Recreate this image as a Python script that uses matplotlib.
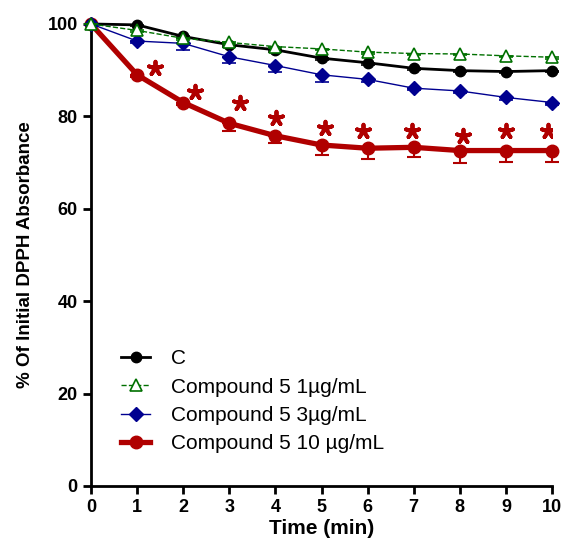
import matplotlib.pyplot as plt
import numpy as np

plt.rcParams["font.family"] = ["Liberation Sans", "DejaVu Sans"]

time_min = [0, 1, 2, 3, 4, 5, 6, 7, 8, 9, 10]

ctrl = [100, 99.8, 97.3, 95.5, 94.4, 92.6, 91.6, 90.4, 89.9, 89.7, 89.9]
ctrl_err = [0, 0.3, 0.4, 0.4, 0.5, 0.4, 0.4, 0.4, 0.4, 0.4, 0.4]

c1 = [100, 98.6, 96.9, 96.0, 95.1, 94.6, 93.9, 93.6, 93.5, 93.1, 92.8]
c1_err = [0, 0.3, 0.3, 0.3, 0.3, 0.3, 0.3, 0.3, 0.3, 0.3, 0.3]

c3 = [100, 96.3, 95.8, 92.9, 91.0, 89.0, 88.0, 86.1, 85.5, 84.1, 83.0]
c3_err = [0, 0.5, 1.4, 1.3, 1.5, 1.5, 0.5, 0.5, 0.5, 0.5, 0.5]

c10 = [100, 89.0, 83.0, 78.5, 75.8, 73.8, 73.1, 73.3, 72.6, 72.6, 72.6]
c10_err = [0, 0.5, 0.6, 1.7, 1.6, 2.2, 2.4, 2.2, 2.6, 2.4, 2.5]

# significance asterisks (x, y)
sig_x = [1.39, 2.26, 3.23, 4.01, 5.08, 5.9, 6.96, 8.07, 9.0, 9.91]
sig_y = [90.5, 85.3, 82.9, 79.7, 77.5, 76.8, 76.8, 75.8, 76.8, 76.8]

labels = ["C", "Compound 5 1\u00b5g/mL", "Compound 5 3\u00b5g/mL", "Compound 5 10 \u00b5g/mL"]

red = "#b00000"
blue = "#000090"
green = "#007000"

fig = plt.figure(figsize=(5.63, 5.52), dpi=100)
ax = fig.add_axes([0.1616, 0.1196, 0.819, 0.837])


def below(err):
    e = np.asarray(err, dtype=float)
    return [e, np.zeros_like(e)]


h_c10 = ax.errorbar(time_min, c10, yerr=below(c10_err), color=red, lw=3.8,
                    marker="o", ms=9, capsize=5, elinewidth=1.5, capthick=1.5,
                    zorder=2, clip_on=False)
h_ctrl = ax.errorbar(time_min, ctrl, yerr=below(ctrl_err), color="black", lw=2,
                     marker="o", ms=7.5, capsize=5, elinewidth=1.2, capthick=1.2,
                     zorder=3, clip_on=False)
h_c3 = ax.errorbar(time_min, c3, yerr=below(c3_err), color=blue, lw=1,
                   marker="D", ms=7, capsize=5, elinewidth=1.2, capthick=1.2,
                   zorder=4, clip_on=False)
h_c1 = ax.errorbar(time_min, c1, yerr=below(c1_err), color=green, lw=1, ls="--",
                   marker="^", ms=9, mfc="white", mec=green, mew=1.2,
                   capsize=5, elinewidth=1, capthick=1, zorder=5, clip_on=False)

ax.scatter(sig_x, sig_y, marker=(5, 2, 0), s=95, color=red, linewidths=2.8,
           zorder=6)

for artist in (h_c10, h_ctrl, h_c3, h_c1):
    for c in artist[1] + artist[2]:
        c.set_clip_on(False)

ax.set_xlim(0, 10)
ax.set_ylim(0, 100)
ax.set_xticks(range(0, 11))
ax.set_yticks(range(0, 101, 20))
for side in ("top", "right"):
    ax.spines[side].set_visible(False)
for side in ("left", "bottom"):
    ax.spines[side].set_linewidth(2)
ax.tick_params(width=2, length=6, labelsize=13)
for t in ax.get_xticklabels() + ax.get_yticklabels():
    t.set_fontweight("bold")

ax.set_xlabel("Time (min)", fontsize=15, fontweight="bold", labelpad=2)
ax.set_ylabel("% Of Initial DPPH Absorbance", fontsize=13.5, fontweight="bold",
              labelpad=10)

handles = [h_ctrl[0], h_c1[0], h_c3[0], h_c10[0]]
leg = ax.legend(handles, labels, loc="lower left",
                bbox_to_anchor=(0.025, 0.03), frameon=False, fontsize=15,
                handlelength=1.4, handletextpad=1.0, labelspacing=0.45)

fig.savefig("out.png", dpi=100)
